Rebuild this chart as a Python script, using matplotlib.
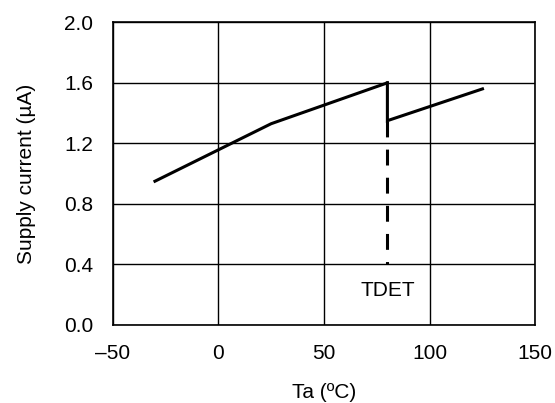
import matplotlib
matplotlib.use('Agg')
import matplotlib.pyplot as plt

plt.rcParams['font.family'] = ['Liberation Sans', 'DejaVu Sans']

# Supply current vs temperature
ta_low = [-30, 25, 80]
current_low = [0.95, 1.33, 1.60]
ta_high = [80, 80, 125]
current_high = [1.60, 1.35, 1.56]
tdet_x = [80, 80]
tdet_y = [1.35, 0.40]

x_ticks = [-50, 0, 50, 100, 150]
x_labels = ['\u201350', '0', '50', '100', '150']
y_ticks = [0.0, 0.4, 0.8, 1.2, 1.6, 2.0]

fs = 15

fig = plt.figure(figsize=(5.55, 4.03), dpi=100)
ax = fig.add_axes([112.7 / 555, 1 - 325 / 403, 422.6 / 555, 302.7 / 403])

ax.plot(ta_low, current_low, color='black', lw=2.2, solid_joinstyle='miter')
ax.plot(ta_high, current_high, color='black', lw=2.2, solid_joinstyle='miter')
ax.plot(tdet_x, tdet_y, color='black', lw=2.2, dashes=(5.2, 4.0))
ax.text(80, 0.23, 'TDET', ha='center', va='center', fontsize=fs)

ax.set_xlim(-50, 150)
ax.set_ylim(0, 2.0)
ax.set_xticks(x_ticks)
ax.set_xticklabels(x_labels)
ax.set_yticks(y_ticks)
ax.set_yticklabels(['%.1f' % v for v in y_ticks])
ax.tick_params(length=0, labelsize=fs, pad=14)
ax.grid(True, color='black', lw=1.0)
for s in ax.spines.values():
    s.set_linewidth(1.2)

ax.set_xlabel('Ta (ºC)', fontsize=fs, labelpad=14)
ax.set_ylabel('Supply current (µA)', fontsize=fs, labelpad=20)

fig.savefig('out.png', dpi=100)
